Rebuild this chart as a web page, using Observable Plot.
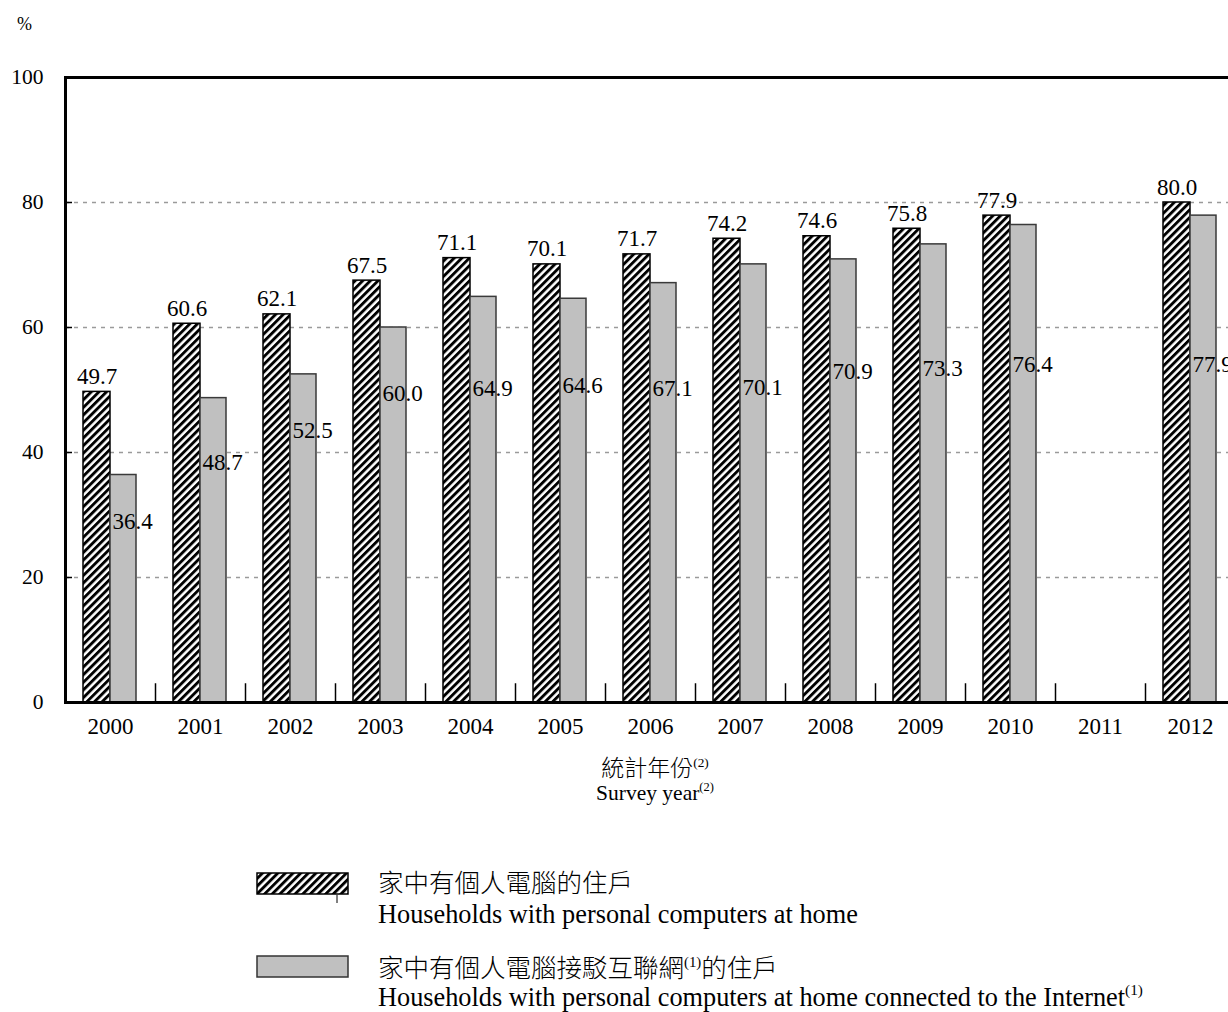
<!DOCTYPE html>
<html>
<head>
<meta charset="utf-8">
<script src="https://cdn.jsdelivr.net/npm/d3@7"></script>
<script src="https://cdn.jsdelivr.net/npm/@observablehq/plot@0.6"></script>
<style>
  html, body { margin: 0; padding: 0; background: #fff; overflow: hidden; }
  #wrap { position: relative; width: 1228px; height: 1012px; overflow: hidden; font-family: "Liberation Serif", "Times New Roman", serif; color: #000; }
  .abs { position: absolute; white-space: nowrap; }
  .cjk { font-family: "Noto Sans CJK TC", "Noto Sans CJK SC", sans-serif; font-weight: 300; }
  .en { font-family: "Liberation Serif", "Times New Roman", serif; }
  sup { font-size: 0.58em; vertical-align: 0; position: relative; top: -0.7em; }
  #chart { position: absolute; left: 0; top: 0; width: 1245px; }
  #chart svg { max-width: none !important; }
</style>
</head>
<body>
<svg width="0" height="0" style="position:absolute">
  <defs>
    <pattern id="hatch" patternUnits="userSpaceOnUse" width="5.4" height="5.4" patternTransform="rotate(45)">
      <rect width="5.4" height="5.4" fill="#fff"></rect>
      <rect width="2.9" height="5.4" fill="#000"></rect>
    </pattern>
  </defs>
</svg>
<div id="wrap">
  <div class="abs en" style="left:17px; top:13px; font-size:18px; line-height:22px;">%</div>
  <div id="chart"></div>
  <div class="abs cjk" style="left:552px; width:206px; text-align:center; top:751px; font-size:23px; line-height:30px;">統計年份<sup class="en">(2)</sup></div>
  <div class="abs en" style="left:552px; width:206px; text-align:center; top:779px; font-size:21.5px; line-height:28px;">Survey year<sup>(2)</sup></div>

  <svg class="abs" style="left:255px; top:871px;" width="100" height="34">
    <rect x="2" y="2" width="91" height="21" fill="url(#hatch)" stroke="#000" stroke-width="1.5"></rect>
    <line x1="82" y1="24" x2="82" y2="32" stroke="#000" stroke-width="1"></line>
  </svg>
  <div class="abs cjk" style="left:378px; top:866px; font-size:25.5px; line-height:30px;">家中有個人電腦的住戶</div>
  <div class="abs en" style="left:378px; top:901px; font-size:26.3px; line-height:28px;">Households with personal computers at home</div>

  <svg class="abs" style="left:255px; top:954px;" width="100" height="28">
    <rect x="2" y="2" width="91" height="21" fill="#c0c0c0" stroke="#333" stroke-width="1.5"></rect>
  </svg>
  <div class="abs cjk" style="left:378px; top:951px; font-size:25.5px; line-height:30px;">家中有個人電腦接駁互聯網<sup class="en">(1)</sup>的住戶</div>
  <div class="abs en" style="left:378px; top:984px; font-size:26.3px; line-height:28px;">Households with personal computers at home connected to the Internet<sup>(1)</sup></div>
</div>
<script>
// ---- data ----
const years = ["2000","2001","2002","2003","2004","2005","2006","2007","2008","2009","2010","2011","2012"];
const pcValues  = [49.7, 60.6, 62.1, 67.5, 71.1, 70.1, 71.7, 74.2, 74.6, 75.8, 77.9, null, 80.0];
const netValues = [36.4, 48.7, 52.5, 60.0, 64.9, 64.6, 67.1, 70.1, 70.9, 73.3, 76.4, null, 77.9];
// level (in %) at which each internet-value label sits in the reference
const netLabelLevel = [29, 38.4, 43.5, 49.4, 50.2, 50.7, 50.2, 50.4, 53, 53.4, 54, null, 54];
const yTicks = [0, 20, 40, 60, 80, 100];
const gridTicks = [20, 40, 60, 80];

const rows = years.map((year, i) => ({ year, pc: pcValues[i], net: netValues[i], lab: netLabelLevel[i] }));
const pcRows = rows.filter(d => d.pc != null);
const netRows = rows.filter(d => d.net != null);

const chart = Plot.plot({
  width: 1245,
  height: 742,
  marginTop: 77,
  marginBottom: 40,
  marginLeft: 65,
  marginRight: 10,
  style: { fontFamily: "'Liberation Serif', 'Times New Roman', serif", fontSize: "23px", background: "transparent", color: "#000", overflow: "visible", maxWidth: "none" },
  x: { domain: years, padding: 0 },
  y: { domain: [0, 100] },
  marks: [
    Plot.gridY(gridTicks, { stroke: "#9a9a9a", strokeOpacity: 1, strokeDasharray: "4,5", strokeWidth: 1.3 }),
    Plot.barY(pcRows, { x: "year", y: "pc", fill: "url(#hatch)", stroke: "#000", strokeWidth: 1.5, insetLeft: 18, insetRight: 45 }),
    Plot.barY(netRows, { x: "year", y: "net", fill: "#c0c0c0", stroke: "#3a3a3a", strokeWidth: 1.5, insetLeft: 45, insetRight: 19 }),
    Plot.ruleX(years.slice(1), { x: d => d, y1: 0, y2: 3, dx: -45, stroke: "#000", strokeWidth: 1.5 }),
    Plot.tickY(gridTicks, { x: () => "2000", y: d => d, insetRight: 83, stroke: "#000", strokeWidth: 1.5 }),
    Plot.text(pcRows, { x: "year", y: "pc", text: d => d.pc.toFixed(1), dx: -13.5, dy: -8, lineAnchor: "bottom", fontSize: 23, fill: "#000" }),
    Plot.text(netRows, { x: "year", y: "lab", text: d => d.net.toFixed(1), dx: 2, textAnchor: "start", fontSize: 23, fill: "#000" }),
    Plot.frame({ stroke: "#000", strokeWidth: 3 }),
    Plot.axisX({ tickSize: 0, tickPadding: 15, fontSize: 23, label: null }),
    Plot.axisY(yTicks, { tickSize: 0, tickPadding: 22, fontSize: 21.5, label: null })
  ]
});
document.getElementById("chart").appendChild(chart);
</script>
</body>
</html>
